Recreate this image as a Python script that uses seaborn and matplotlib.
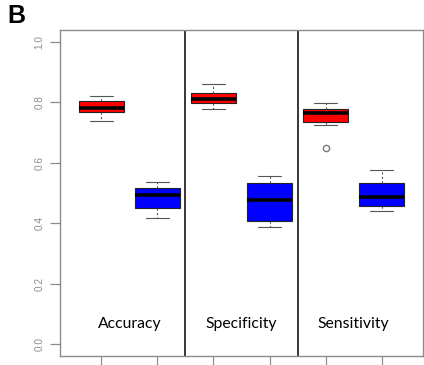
import pandas as pd
import matplotlib
matplotlib.use("Agg")
import matplotlib.pyplot as plt
import seaborn as sns

# five-number summaries (low whisker, Q1, median, Q3, high whisker)
acc_red = [0.740, 0.770, 0.780, 0.805, 0.820]
acc_blue = [0.416, 0.449, 0.493, 0.515, 0.537]
spec_red = [0.778, 0.798, 0.813, 0.831, 0.862]
spec_blue = [0.387, 0.406, 0.477, 0.533, 0.555]
sens_red = [0.725, 0.736, 0.764, 0.778, 0.798]
sens_blue = [0.439, 0.458, 0.488, 0.532, 0.577]
sens_red_outliers = [0.65]

metrics = ["Accuracy", "Specificity", "Sensitivity"]
groups = ["acc_red", "acc_blue", "spec_red", "spec_blue", "sens_red", "sens_blue"]
group_colors = ["red", "blue", "red", "blue", "red", "blue"]
yticks = [0.0, 0.2, 0.4, 0.6, 0.8, 1.0]
ytick_labels = ["0.0", "0.2", "0.4", "0.6", "0.8", "1.0"]

all_values = [acc_red, acc_blue, spec_red, spec_blue, sens_red, sens_blue]
df = pd.DataFrame({
    "group": [g for g, vals in zip(groups, all_values) for _ in vals],
    "value": [v for vals in all_values for v in vals],
})

sns.set_theme(style="white")
plt.rcParams["font.family"] = ["Liberation Sans", "DejaVu Sans"]

fig = plt.figure(figsize=(4.24, 3.65), dpi=100)
W, H = 424, 365
ax = fig.add_axes([60 / W, (H - 356) / H, 363 / W, 326 / H])

grey = "#8c8c8c"
sns.boxplot(
    data=df, x="group", y="value", hue="group", order=groups, hue_order=groups,
    palette=dict(zip(groups, group_colors)), saturation=1, legend=False, width=0.8,
    linecolor="#222222", linewidth=0.8, whis=1.5, showfliers=False, ax=ax,
    medianprops={"color": "black", "linewidth": 2.6},
    whiskerprops={"linestyle": (0, (2, 2)), "color": "#555555"},
    capprops={"color": "#555555"},
)

# outlier of the Sensitivity (red) group
ax.plot([groups.index("sens_red")] * len(sens_red_outliers), sens_red_outliers,
        "o", mfc="none", mec="#777777", ms=4.5, mew=1.0)

# separators between metrics
for sep in [1.5, 3.5]:
    ax.axvline(sep, color="black", lw=1.1)

for i, name in enumerate(metrics):
    ax.text(2 * i + 0.5, 0.066, name, ha="center", va="center",
            fontsize=11.3, family=["Lato", "DejaVu Sans"], color="black")

ax.set_xlim(-0.74, 5.74)
ax.set_ylim(-0.04, 1.04)
ax.set_xticks(range(len(groups)))
ax.set_xticklabels([""] * len(groups))
ax.set_yticks(yticks)
ax.set_yticklabels(ytick_labels, rotation=90, va="center", color=grey, fontsize=7.2)
ax.tick_params(axis="both", which="both", direction="out", length=7, width=0.9,
               color=grey, left=True, bottom=True, pad=4)
ax.set_xlabel("")
ax.set_ylabel("")
for s in ax.spines.values():
    s.set_color(grey)
    s.set_linewidth(1.0)

fig.text(7 / W, 1 - 23 / H, "B", fontsize=18, fontweight="bold", color="black",
         ha="left", va="baseline")

fig.savefig("out.png", dpi=100)
